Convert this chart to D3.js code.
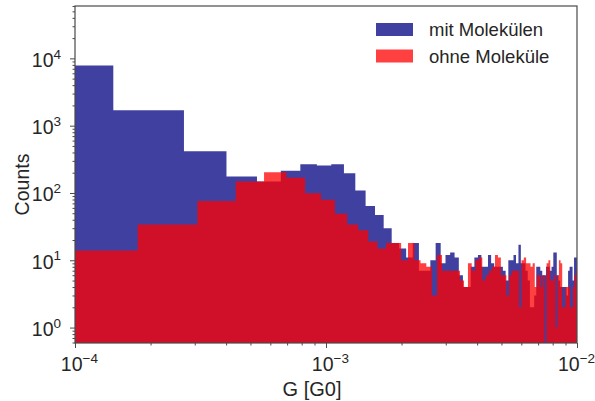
<!DOCTYPE html>
<html>
<head>
<meta charset="utf-8">
<script src="https://cdn.jsdelivr.net/npm/d3@7"></script>
<style>
  body { margin: 0; background: #fff; }
  svg { display: block; }
  text { font-family: "Liberation Sans", Arial, Helvetica, sans-serif; fill: #262626; }
</style>
</head>
<body>
<svg id="chart" width="595" height="401"></svg>
<script>
// Conductance histograms, linear bins of equal width shown on log-log axes
const seriesNames = ["mit Molekülen", "ohne Moleküle"];
const binWidth = 1.296e-4;          // G0 per bin
const withStart = 0.125e-4;         // first bin edge, "mit Molekülen"
const withoutStart = 0.481e-4;      // first bin edge, "ohne Moleküle"

const withCounts = [
  7810, 1700, 418, 175, 148, 213, 268, 255, 268, 197,
  109, 64, 47, 30, 18, 15, 11, 18, 7, 7,
  10, 18, 9, 12, 13, 11, 6, 4, 4, 8,
  11, 12, 8, 8, 12, 9, 8, 8, 8, 7,
  5, 10, 10, 12, 9, 17, 9, 9, 7, 5,
  2, 2, 3, 8, 8, 7, 6, 6, 8, 8,
  7, 8, 13, 13, 6, 5, 4, 4, 4, 4,
  3, 7, 8, 8, 5, 11, 11
];
const withoutCounts = [
  14, 34, 76, 148, 204, 169, 99, 79, 49, 34,
  28, 19, 15, 18, 18, 10, 18, 10, 9, 8,
  3, 12, 7, 7, 7, 7, 5, 4, 9, 7,
  10, 11, 5, 6, 7, 8, 12, 11, 6, 6,
  3, 6, 7, 7, 7, 2, 10, 11, 9, 9,
  8, 9, 4, 6, 6, 4, 6, 0, 9, 10,
  5, 5, 6, 1, 6, 10, 9, 2, 2, 4,
  4, 4, 2, 2, 4, 6, 7
];

const xDomain = [1e-4, 1e-2];
const yDomain = [0.59, 6.0e4];
const xTickExponents = [-4, -3, -2];
const yTickExponents = [0, 1, 2, 3, 4];
const xLabel = "G [G0]";
const yLabel = "Counts";

const colors = { with: "#000080", without: "#ff0000" };
const fillAlpha = 0.75;

const svg = d3.select("#chart");
const margin = { left: 75, top: 6, right: 18, bottom: 58 };
const W = 595, H = 401;
const x0 = margin.left, x1 = W - margin.right;
const y0 = H - margin.bottom, y1 = margin.top;

const x = d3.scaleLog().domain(xDomain).range([x0, x1]);
const y = d3.scaleLog().domain(yDomain).range([y0, y1]);

svg.append("defs").append("clipPath").attr("id", "plot-clip")
  .append("rect").attr("x", x0).attr("y", y1).attr("width", x1 - x0).attr("height", y0 - y1);

// Step outline of a histogram: two points per bin, closed along the baseline
function stepPoints(start, counts) {
  const pts = [];
  counts.forEach((c, i) => {
    const a = x(start + i * binWidth), b = x(start + (i + 1) * binWidth);
    const top = c > 0 ? y(c) : y0 + 20;
    pts.push([a, top], [b, top]);
  });
  return pts;
}
const area = d3.area().x(d => d[0]).y0(y0 + 20).y1(d => d[1]);

const plot = svg.append("g").attr("clip-path", "url(#plot-clip)");
plot.append("path")
  .attr("d", area(stepPoints(withStart, withCounts)))
  .attr("fill", colors.with).attr("fill-opacity", fillAlpha);
plot.append("path")
  .attr("d", area(stepPoints(withoutStart, withoutCounts)))
  .attr("fill", colors.without).attr("fill-opacity", fillAlpha);

// Minor tick positions: 2..9 times each power of ten inside the domain
function minorTicks(domain) {
  const out = [];
  const lo = Math.floor(Math.log10(domain[0])), hi = Math.ceil(Math.log10(domain[1]));
  for (let e = lo; e <= hi; e++) {
    for (let m = 2; m <= 9; m++) {
      const v = m * Math.pow(10, e);
      if (v >= domain[0] && v <= domain[1]) out.push(v);
    }
  }
  return out;
}

const axisColor = "#4a4a4a";
const tickFont = 19.5, supFont = 13.5;
const superscript = (sel, exps) => {
  sel.selectAll(".tick text").each(function (d, i) {
    const t = d3.select(this);
    t.text("10");
    t.append("tspan").attr("dy", "-0.6em").attr("font-size", supFont + "px")
      .text(String(exps[i]).replace("-", "\u2212"));
  });
};

// x axis
const gx = svg.append("g").attr("transform", `translate(0,${y0})`);
gx.call(d3.axisBottom(x).tickValues(minorTicks(xDomain)).tickSize(2.5).tickFormat(""));
const gxMajor = svg.append("g").attr("transform", `translate(0,${y0})`);
gxMajor.call(d3.axisBottom(x).tickValues(xTickExponents.map(e => Math.pow(10, e))).tickSize(5).tickPadding(10));
gxMajor.selectAll(".tick text").attr("font-size", tickFont + "px").attr("dy", "0.68em").attr("dx", "0.2em");
superscript(gxMajor, xTickExponents);
// keep the last label inside the figure
gxMajor.selectAll(".tick text").filter((d, i, n) => i === n.length - 1).attr("dx", "-0.05em");

// y axis
const gy = svg.append("g").attr("transform", `translate(${x0},0)`);
gy.call(d3.axisLeft(y).tickValues(minorTicks(yDomain)).tickSize(2.5).tickFormat(""));
const gyMajor = svg.append("g").attr("transform", `translate(${x0},0)`);
gyMajor.call(d3.axisLeft(y).tickValues(yTickExponents.map(e => Math.pow(10, e))).tickSize(5).tickPadding(9));
gyMajor.selectAll(".tick text").attr("font-size", tickFont + "px").attr("dy", "0.4em");
superscript(gyMajor, yTickExponents);

[gx, gxMajor, gy, gyMajor].forEach(g => {
  g.select(".domain").remove();
  g.selectAll(".tick line").attr("stroke", axisColor).attr("stroke-width", 1);
  g.selectAll(".tick text").attr("fill", "#262626").attr("font-family", null);
});

// frame
svg.append("rect")
  .attr("x", x0).attr("y", y1).attr("width", x1 - x0).attr("height", y0 - y1)
  .attr("fill", "none").attr("stroke", axisColor).attr("stroke-width", 1.2);

// axis titles
svg.append("text").attr("x", 312).attr("y", 396)
  .attr("text-anchor", "middle").attr("font-size", "20px").text(xLabel);
svg.append("text").attr("transform", `translate(29,${(y0 + y1) / 2 + 10}) rotate(-90)`)
  .attr("text-anchor", "middle").attr("font-size", "19.5px").text(yLabel);

// legend
const legend = svg.append("g");
const legendRows = [
  { name: seriesNames[0], color: colors.with },
  { name: seriesNames[1], color: colors.without }
];
legendRows.forEach((r, i) => {
  const cy = 29.5 + i * 26.5;
  legend.append("rect").attr("x", 376).attr("y", cy - 6.5).attr("width", 37).attr("height", 13)
    .attr("fill", r.color).attr("fill-opacity", fillAlpha);
  legend.append("text").attr("x", 429).attr("y", cy + 6.5).attr("font-size", "18.5px").text(r.name);
});
</script>
</body>
</html>
